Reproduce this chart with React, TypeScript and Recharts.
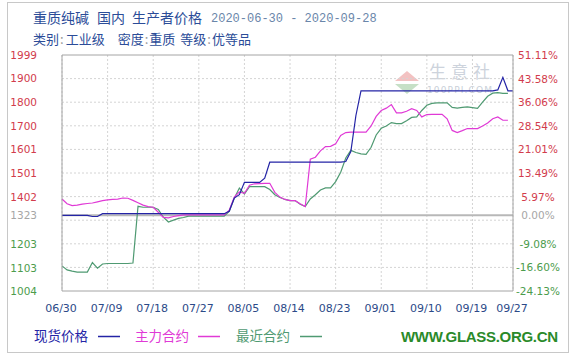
import { LineChart, Line, XAxis, YAxis, CartesianGrid, ReferenceLine } from 'recharts';

const BASE = 1323;

const tickDays = [0, 9, 18, 27, 36, 45, 54, 63, 72, 81, 89];
const tickLabels = ['06/30', '07/09', '07/18', '07/27', '08/05', '08/14', '08/23', '09/01', '09/10', '09/19', '09/27'];

// 现货价格, one value per day from 06/30 to 09/27
const spot = [
  1323, 1323, 1323, 1323, 1323, 1323, 1318, 1318,
  1330, 1330, 1330, 1330, 1330, 1330, 1330, 1330, 1330, 1330, 1330, 1330, 1330,
  1330, 1330, 1330, 1330, 1330, 1330, 1330, 1330, 1330, 1330, 1330, 1330,
  1340, 1396, 1410, 1462, 1462, 1462, 1462, 1480,
  1547, 1547, 1547, 1547, 1547, 1547, 1547, 1547, 1547, 1547, 1547, 1547, 1547, 1547, 1547,
  1550, 1592, 1744,
  1848, 1848, 1848, 1848, 1848, 1848, 1848, 1848, 1848, 1848, 1848, 1848, 1848, 1848,
  1848, 1848, 1848, 1848, 1848, 1848, 1848, 1848, 1848, 1848, 1848, 1848, 1848,
  1852, 1905, 1848, 1848,
];

// 主力合约
const mainContract = [
  1392, 1372, 1364, 1366, 1370, 1373, 1375, 1380, 1385, 1388, 1390, 1391, 1396, 1395,
  1386, 1376, 1366, 1360, 1357, 1336, 1314, 1312, 1318, 1322,
  1325, 1325, 1325, 1325, 1325, 1325, 1325, 1325, 1325,
  1345, 1400, 1422, 1416, 1450, 1456, 1457, 1458, 1458, 1420, 1400, 1390, 1385, 1385,
  1372, 1360, 1560, 1568, 1595, 1613, 1614, 1625, 1660, 1672, 1674, 1674, 1674, 1674,
  1700, 1740, 1765, 1775, 1790, 1755, 1755, 1762, 1773, 1765, 1738, 1748, 1749, 1749,
  1749, 1730, 1681, 1672, 1680, 1689, 1689, 1689, 1700, 1712, 1730, 1738, 1724, 1724,
];

// 最近合约
const nearContract = [
  1110, 1093, 1088, 1084, 1084, 1084, 1124, 1100, 1118, 1120, 1120, 1120, 1120, 1120,
  1122, 1361, 1357, 1357, 1357, 1348, 1315, 1295, 1303, 1310, 1314,
  1320, 1320, 1320, 1320, 1320, 1320, 1320, 1320,
  1340, 1395, 1438, 1413, 1444, 1444, 1444, 1444, 1432, 1410, 1398, 1390, 1385, 1385,
  1370, 1360, 1392, 1410, 1430, 1439, 1439, 1465, 1505, 1565, 1597, 1588, 1582, 1580,
  1610, 1662, 1690, 1700, 1714, 1710, 1710, 1722, 1736, 1738, 1765, 1787, 1795, 1797,
  1797, 1797, 1778, 1775, 1778, 1780, 1777, 1774, 1800, 1825, 1838, 1840, 1837, 1837,
];

const priceTicks = [1004, 1103, 1203, 1323, 1402, 1501, 1601, 1700, 1800, 1900, 1999];
const gridValues = [1103.5, 1203, 1302.5, 1402, 1501.5, 1601, 1700.5, 1800, 1899.5];
const pctTicks = [-24.13, -16.6, -9.08, 0, 5.97, 13.49, 21.01, 28.54, 36.06, 43.58, 51.11];

const BLUE = '#2424a6';
const PINK = '#e03ad6';
const GREEN = '#4f9a72';
const UP = '#d23c4c';
const DOWN = '#4c9c4c';
const FLAT = '#a6a6a6';
const FRAME = '#a4a4a4';
const GRID = '#d4d4d4';

const rows = spot.map((v, i) => ({
  day: i,
  spot: v,
  main: mainContract[i] ?? null,
  near: nearContract[i] ?? null,
}));

function tone(diff: number) {
  if (Math.abs(diff) < 1e-6) return FLAT;
  return diff > 0 ? UP : DOWN;
}

function PriceTick(props: any) {
  const { x, y, payload } = props;
  const v = payload.value as number;
  return (
    <text x={x} y={y} dy={4} textAnchor="end" fontSize={10.5} fontFamily="DejaVu Sans" fill={tone(v - BASE)}>
      {v}
    </text>
  );
}

function PctTick(props: any) {
  const { x, y, payload } = props;
  const v = payload.value as number;
  return (
    <text x={x} y={y} dy={4} textAnchor="middle" fontSize={10.5} fontFamily="DejaVu Sans" fill={tone(v)}>
      {v.toFixed(2)}%
    </text>
  );
}

function DateTick(props: any) {
  const { x, y, payload } = props;
  const label = tickLabels[tickDays.indexOf(payload.value)];
  return (
    <text x={x - 1} y={y} dy="0.71em" textAnchor="middle" fontSize={11} fontFamily="DejaVu Sans" fill="#2c4a88">
      {label}
    </text>
  );
}

const cjk = '"Noto Sans CJK SC", sans-serif';

function Backdrop() {
  const legend = [
    { name: '现货价格', color: BLUE, x: 34, lx: 98 },
    { name: '主力合约', color: PINK, x: 135, lx: 198 },
    { name: '最近合约', color: GREEN, x: 236, lx: 300 },
  ];
  return (
    <svg width={572} height={354} style={{ position: 'absolute', left: 0, top: 0 }}>
      <rect x={7.5} y={2.5} width={561} height={350} fill="none" stroke="#c8c8c8" />
      <g fontFamily={cjk} fontSize={14} fill="#2b4c98">
        <text x={33} y={23}>重质纯碱</text>
        <text x={97} y={23}>国内</text>
        <text x={132} y={23}>生产者价格</text>
      </g>
      <text x={211} y={22} fontFamily="Liberation Mono" fontSize={12} fill="#6a86aa">
        2020-06-30 - 2020-09-28
      </text>
      <text x={33} y={44} fontFamily={cjk} fontSize={13} fill="#2b4c98">
        <tspan>类别</tspan>
        <tspan dx={1} fill="#999">:</tspan>
        <tspan dx={2}>工业级</tspan>
        <tspan dx={13}>密度</tspan>
        <tspan dx={1} fill="#999">:</tspan>
        <tspan dx={1}>重质</tspan>
        <tspan dx={5}>等级</tspan>
        <tspan dx={1} fill="#999">:</tspan>
        <tspan dx={1}>优等品</tspan>
      </text>
      {/* watermark */}
      <polygon points="407,71 395,81 419,81" fill="#f3c2c2" />
      <polygon points="395,84 419,84 407,94" fill="#c6e0c6" />
      <text x={429} y={78} fontFamily={cjk} fontSize={17} letterSpacing={5} fill="#cdd3dc">生意社</text>
      <text x={427} y={93} fontFamily="DejaVu Sans" fontSize={9} textLength={65} fill="#c9d0d9">100PPI.COM</text>
      {legend.map((l) => (
        <g key={l.name}>
          <text x={l.x} y={341} fontFamily={cjk} fontSize={13.5} fill={l.color}>{l.name}</text>
          <line x1={l.lx} x2={l.lx + 22} y1={336.5} y2={336.5} stroke={l.color} strokeWidth={1.5} />
        </g>
      ))}
      <text x={401} y={342} fontFamily="Liberation Sans" fontWeight="bold" fontSize={15} textLength={157} fill="#2a8a2a">
        WWW.GLASS.ORG.CN
      </text>
    </svg>
  );
}

export default function App() {
  return (
    <div style={{ position: 'relative', width: 572, height: 354, background: '#fff' }}>
      <style>{'body{margin:0}'}</style>
      <Backdrop />
      <div style={{ position: 'absolute', left: 0, top: 0 }}>
        <LineChart width={572} height={354} data={rows} margin={{ top: 55, right: 0, bottom: 33, left: 0 }}>
          <CartesianGrid yAxisId="left" horizontal={false} stroke={GRID} strokeDasharray="2 2" />
          <XAxis
            dataKey="day"
            type="number"
            domain={[0, 89]}
            ticks={tickDays}
            interval={0}
            height={30}
            tickSize={0}
            tickMargin={13}
            tick={<DateTick />}
            axisLine={{ stroke: FRAME }}
          />
          <YAxis
            yAxisId="left"
            domain={[1004, 1999]}
            ticks={priceTicks}
            interval={0}
            width={62}
            tickSize={0}
            tickMargin={25}
            tick={<PriceTick />}
            axisLine={{ stroke: FRAME }}
            allowDataOverflow
          />
          <YAxis
            yAxisId="pct"
            orientation="right"
            domain={[-24.13, 51.11]}
            ticks={pctTicks}
            interval={0}
            width={59}
            tickSize={0}
            tickMargin={25}
            tick={<PctTick />}
            axisLine={{ stroke: FRAME }}
            allowDataOverflow
          />
          {gridValues.map((v) => (
            <ReferenceLine key={v} yAxisId="left" y={v} stroke={GRID} strokeDasharray="2 2" />
          ))}
          <ReferenceLine yAxisId="left" y={1999} stroke={FRAME} />
          <ReferenceLine yAxisId="left" y={BASE} stroke="#b8b8b8" strokeWidth={2} />
          <Line yAxisId="left" type="linear" dataKey="near" stroke={GREEN} strokeWidth={1.2} dot={false} isAnimationActive={false} />
          <Line yAxisId="left" type="linear" dataKey="main" stroke={PINK} strokeWidth={1.2} dot={false} isAnimationActive={false} />
          <Line yAxisId="left" type="linear" dataKey="spot" stroke={BLUE} strokeWidth={1.2} dot={false} isAnimationActive={false} />
        </LineChart>
      </div>
    </div>
  );
}
